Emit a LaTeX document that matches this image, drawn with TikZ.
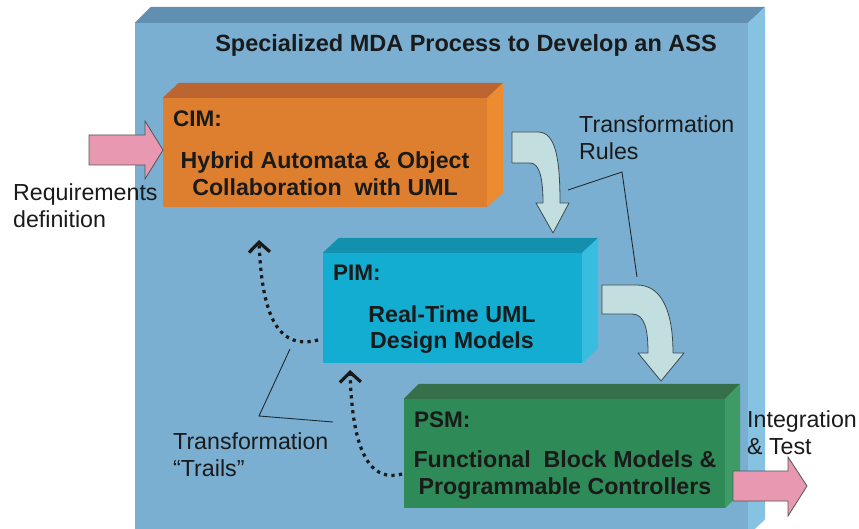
\documentclass[tikz,border=0pt]{standalone}
\usepackage{fontspec}
\setmainfont{Liberation Sans}
\usetikzlibrary{calc,arrows.meta}
\definecolor{bgfront}{HTML}{7AAFD1}
\definecolor{bgtop}{HTML}{618FB2}
\definecolor{bgside}{HTML}{86C3E3}
\definecolor{cimfront}{HTML}{DE7F2F}
\definecolor{cimtop}{HTML}{BC6531}
\definecolor{cimside}{HTML}{EC8B30}
\definecolor{pimfront}{HTML}{12ADD0}
\definecolor{pimtop}{HTML}{1290AE}
\definecolor{pimside}{HTML}{36BDE0}
\definecolor{psmfront}{HTML}{2E8B58}
\definecolor{psmtop}{HTML}{35704A}
\definecolor{psmside}{HTML}{3E9B66}
\definecolor{barrow}{HTML}{C2DEDF}
\definecolor{barrowline}{HTML}{3A4A50}
\definecolor{pinkfill}{HTML}{E898B0}
\definecolor{pinkline}{HTML}{555555}
\definecolor{txt}{HTML}{1A1A1A}
\definecolor{linec}{HTML}{1E2A30}
\begin{document}
\begin{tikzpicture}[x=1pt,y=-1pt,
  frontface/.style={rectangle,inner sep=0pt,draw=none},
  boxtxt/.style={font=\fontsize{23.2}{27}\selectfont\bfseries,text=txt,align=center,inner sep=0pt},
  tagtxt/.style={font=\fontsize{22.5}{27}\selectfont\bfseries,text=txt,anchor=west,inner sep=0pt},
  lbl/.style={font=\fontsize{23.2}{27}\selectfont,text=txt,align=left,anchor=west,inner sep=0pt},
  blockarrow/.style={fill=barrow,draw=barrowline,line width=0.8pt,line join=round},
  pinkarrow/.style={fill=pinkfill,draw=pinkline,line width=0.8pt},
  leader/.style={draw=linec,line width=0.9pt},
  trail/.style={draw=black!90,line width=3.2pt,dash pattern=on 3.2pt off 4.3pt,
    -{Straight Barb[length=10pt,width=21pt]}}]
\useasboundingbox (0,0) rectangle (859,529);

% big background box
\node[frontface,fill=bgfront,minimum width=613pt,minimum height=512pt] (bg) at (441.5,279) {};
\fill[bgtop] (bg.north west) -- ++(16,-16) -- ($(bg.north east)+(17,-16)$) -- (bg.north east) -- cycle;
\fill[bgside] (bg.north east) -- ++(17,-16) -- ($(bg.south east)+(17,-16)$) -- (bg.south east) -- cycle;
\node[font=\fontsize{23.5}{28}\selectfont\bfseries,text=txt,inner sep=0pt] (title) at (466,45) {Specialized MDA Process to Develop an ASS};

% curved block arrows
\draw[blockarrow] (512,132) -- (538,132) .. controls (556,132) and (560,160) .. (560,203)
  -- (569,203) -- (553,233) -- (536,203) -- (543,203)
  .. controls (543,180) and (540,163) .. (530,163) -- (512,163) -- cycle;
\draw[blockarrow] (602,285) -- (637,285) .. controls (662,285) and (673,312) .. (673,353)
  -- (684,353) -- (661,381) -- (638,353) -- (648,353)
  .. controls (648,330) and (645,314) .. (632,314) -- (602,314) -- cycle;

% CIM
\node[frontface,fill=cimfront,minimum width=324pt,minimum height=109pt] (cim) at (325,152.5) {};
\fill[cimtop] (cim.north west) -- ++(16,-15) -- ($(cim.north east)+(16,-15)$) -- (cim.north east) -- cycle;
\fill[cimside] (cim.north east) -- ++(16,-15) -- ($(cim.south east)+(16,-15)$) -- (cim.south east) -- cycle;
\node[tagtxt] (cimtag) at (173,119) {CIM:};
\node[boxtxt] (cimtxt) at (325,174) {Hybrid Automata \& Object\\Collaboration\ \ with UML};

% PIM
\node[frontface,fill=pimfront,minimum width=259pt,minimum height=110pt] (pim) at (452.5,308) {};
\fill[pimtop] (pim.north west) -- ++(16,-15) -- ($(pim.north east)+(16,-15)$) -- (pim.north east) -- cycle;
\fill[pimside] (pim.north east) -- ++(16,-15) -- ($(pim.south east)+(16,-15)$) -- (pim.south east) -- cycle;
\node[tagtxt] (pimtag) at (333,273) {PIM:};
\node[boxtxt,font=\fontsize{23.2}{26}\selectfont\bfseries] (pimtxt) at (452,330) {Real-Time UML\\Design Models};

% PSM
\node[frontface,fill=psmfront,minimum width=321pt,minimum height=109pt] (psm) at (564.5,453.5) {};
\fill[psmtop] (psm.north west) -- ++(15,-15) -- ($(psm.north east)+(15,-15)$) -- (psm.north east) -- cycle;
\fill[psmside] (psm.north east) -- ++(15,-15) -- ($(psm.south east)+(15,-15)$) -- (psm.south east) -- cycle;
\node[tagtxt] (psmtag) at (414,420) {PSM:};
\node[boxtxt] (psmtxt) at (565,475.5) {Functional\ \ Block Models \&\\Programmable Controllers};

% pink arrows
\draw[pinkarrow] (89,135) -- (145,135) -- (145,121) -- (163,150) -- (145,179) -- (145,165) -- (89,165) -- cycle;
\draw[pinkarrow] (733,471) -- (788,471) -- (788,457) -- (807,486) -- (788,516) -- (788,501) -- (733,501) -- cycle;

% labels
\node[lbl] (req) at (13,205.5) {Requirements\\definition};
\node[lbl] (trrules) at (579,138) {Transformation\\Rules};
\node[lbl] (trtrails) at (173,454.5) {Transformation\\“Trails”};
\node[lbl] (integ) at (747,433) {Integration\\\& Test};

% leader lines
\coordinate (r1) at (568,190);
\coordinate (r2) at (622,172);
\coordinate (r3) at (637,277);
\draw[leader] (r1) -- (r2) -- (r3);
\coordinate (t1) at (290,349);
\coordinate (t2) at (259,416);
\coordinate (t3) at (333,422);
\draw[leader] (t1) -- (t2) -- (t3);

% dotted trails
\coordinate (d1s) at (318,340);
\coordinate (d1e) at (259,240);
\draw[trail] (d1s) .. controls (280,350) and (262,320) .. (d1e);
\coordinate (d2s) at (402,474);
\coordinate (d2e) at (350,370);
\draw[trail] (d2s) .. controls (365,484) and (352,440) .. (d2e);
\end{tikzpicture}
\end{document}
